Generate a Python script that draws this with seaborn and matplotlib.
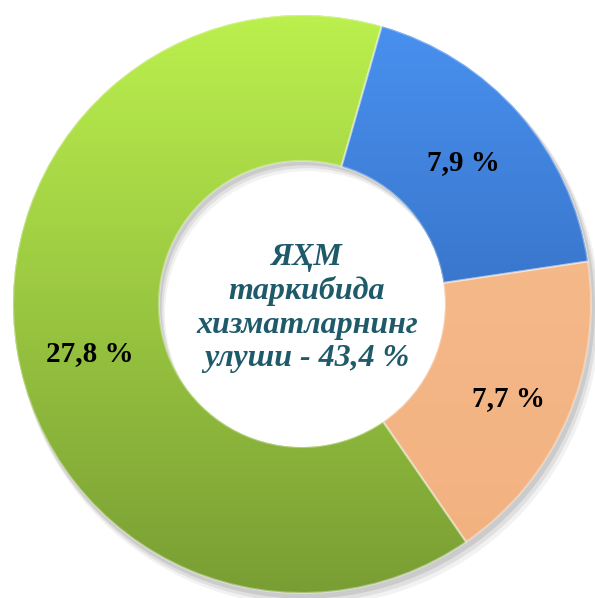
import numpy as np
import matplotlib
matplotlib.use("Agg")
import matplotlib.pyplot as plt
import seaborn as sns
from matplotlib.colors import LinearSegmentedColormap
from matplotlib.patches import Wedge

# ---- data ----
values = [7.9, 7.7, 27.8]
center_lines = ["ЯҲМ", "таркибида", "хизматларнинг", "улуши - 43,4 %"]
base_colors = ["#3b7fd9", "#f5b98a", "#a4d444"]
grad_top = ["#4a93f2", "#f7bf92", "#bdf24e"]
grad_bottom = ["#2757a3", "#f2b07e", "#779c33"]

sns.set_style("white")
plt.rcParams["font.family"] = ["Liberation Serif", "DejaVu Serif"]

W, H = 595, 598
fig = plt.figure(figsize=(W / 100, H / 100), dpi=100)
ax = fig.add_axes([0, 0, 1, 1])

R = 289.0
cx, cy = 302.0, 304.0
ring_w = 0.505

# soft shadow behind ring
for off, a in [(0.035, 0.05), (0.025, 0.07), (0.015, 0.09)]:
    sh = Wedge((off * 0.6, -off), 1.0 + off * 0.3, 0, 360, width=ring_w + off * 0.3,
               facecolor="#000000", alpha=a, edgecolor="none", zorder=0)
    ax.add_patch(sh)

total = sum(values)

def fmt(p):
    v = p * total / 100.0
    return f"{v:.1f} %".replace(".", ",")

wedges, texts, autotexts = ax.pie(
    values, colors=base_colors, startangle=74, counterclock=False,
    radius=1.0, wedgeprops=dict(width=ring_w, edgecolor="none"),
    autopct=fmt, pctdistance=0.755,
    textprops=dict(fontsize=21, fontweight="bold", color="black"),
)

# small nudges of label placement (pixels)
nudges = [(-3, -2), (6, -8), (3, -14)]
for t, (dx, dy) in zip(autotexts, nudges):
    x, y = t.get_position()
    t.set_position((x + dx / R, y + dy / R))
    t.set_zorder(10)

# gradient fill clipped to each wedge
for w, c0, c1 in zip(wedges, grad_top, grad_bottom):
    cmap = LinearSegmentedColormap.from_list("g", [c1, c0])
    grad = np.linspace(0, 1, 256).reshape(-1, 1)
    im = ax.imshow(grad, cmap=cmap, origin="lower", extent=[-1.05, 1.05, -1.05, 1.05],
                   aspect="auto", zorder=2, interpolation="bilinear")
    im.set_clip_path(w)
    ax.add_patch(Wedge(w.center, w.r, w.theta1, w.theta2, width=w.width,
                       facecolor="none", edgecolor="white", alpha=0.35, lw=1.5, zorder=3))

ax.set_aspect("auto")
ax.set_xlim(-cx / R, (W - cx) / R)
ax.set_ylim(-(H - cy) / R, cy / R)
ax.axis("off")

ax.text(5 / R, -4 / R, "\n".join(center_lines), ha="center", va="center",
        fontsize=23, fontweight="bold", fontstyle="italic", color="#1e5a6a",
        linespacing=1.2, zorder=10)

fig.savefig("out.png", dpi=100)
